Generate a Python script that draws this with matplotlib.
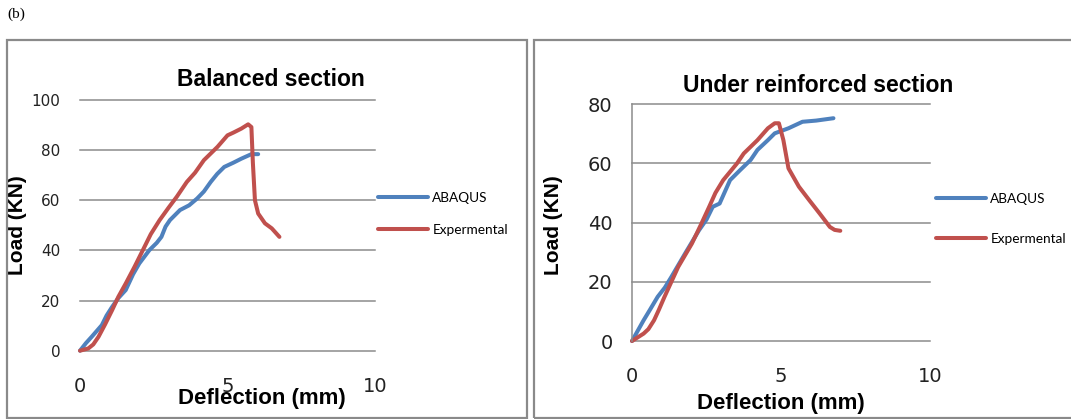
import matplotlib.pyplot as plt
from matplotlib.patches import Rectangle

# Balanced section: load (kN) against deflection (mm)
bal_abaqus_x = [0, 0.20, 0.40, 0.74, 0.90, 1.09, 1.30, 1.55, 1.80, 2.01, 2.35, 2.60, 2.76, 2.90, 3.05,
                3.39, 3.70, 3.97, 4.20, 4.43, 4.65, 4.89, 5.20, 5.47, 5.81, 6.04]
bal_abaqus_y = [0, 3.0, 5.6, 10.2, 14.0, 17.5, 21.0, 24.2, 30.5, 34.8, 40.1, 43.0, 45.4, 49.5, 52.1,
                56.1, 58.0, 60.7, 63.5, 67.3, 70.5, 73.3, 75.0, 76.6, 78.4, 78.4]
bal_exp_x = [0, 0.28, 0.45, 0.63, 0.85, 1.09, 1.30, 1.55, 1.85, 2.13, 2.40, 2.70, 3.00, 3.28, 3.62,
             3.90, 4.20, 4.66, 5.00, 5.20, 5.47, 5.70, 5.81, 5.86, 5.93, 6.04, 6.27, 6.50, 6.76]
bal_exp_y = [0, 0.9, 2.5, 5.6, 10.5, 16.2, 21.5, 26.8, 33.5, 40.1, 46.5, 52.1, 57.0, 61.4, 67.3,
             71.0, 76.0, 81.3, 85.9, 87.0, 88.6, 90.3, 89.2, 75.0, 60.0, 54.7, 50.8, 48.8, 45.4]

# Under reinforced section
und_abaqus_x = [0, 0.39, 0.60, 0.86, 1.10, 1.32, 1.78, 2.25, 2.50, 2.71, 2.94, 3.29, 3.63, 3.98,
                4.21, 4.56, 4.79, 5.25, 5.72, 6.18, 6.76]
und_abaqus_y = [0, 7.0, 10.5, 14.9, 18.0, 21.6, 29.5, 37.4, 41.0, 45.3, 46.4, 54.3, 57.7, 61.1,
                64.5, 67.8, 70.1, 71.8, 74.0, 74.4, 75.2]
und_exp_x = [0, 0.39, 0.55, 0.74, 0.90, 1.09, 1.55, 2.01, 2.30, 2.59, 2.80, 3.06, 3.52, 3.75, 4.21,
             4.56, 4.79, 4.93, 5.08, 5.25, 5.60, 5.95, 6.30, 6.64, 6.80, 6.99]
und_exp_y = [0, 2.5, 4.0, 7.0, 10.5, 14.9, 25.0, 32.9, 39.0, 45.3, 50.0, 54.3, 59.9, 63.3, 67.8,
             71.8, 73.5, 73.5, 67.8, 58.3, 52.1, 47.5, 43.0, 38.5, 37.5, 37.2]

series_names = ['ABAQUS', 'Expermental']
x_ticks = [0, 5, 10]

BLUE = '#4F81BD'
RED = '#C0504D'
GREY = '#8c8c8c'

W, H = 1071, 419
fig = plt.figure(figsize=(W / 100, H / 100), dpi=100)


def px_axes(x0, y_top, x1, y_bot):
    return fig.add_axes([x0 / W, 1 - y_bot / H, (x1 - x0) / W, (y_bot - y_top) / H])


def frame(x0, y_top, x1, y_bot):
    fig.add_artist(Rectangle((x0 / W, 1 - y_bot / H), (x1 - x0) / W, (y_bot - y_top) / H,
                             transform=fig.transFigure, fill=False, ec='#8a8a8a', lw=1.6,
                             clip_on=False))


def draw(ax, ab_x, ab_y, ex_x, ex_y, ymax, ysize, xsize, left_spine):
    ax.plot(ab_x, ab_y, color=BLUE, lw=2.9, label=series_names[0], clip_on=False,
            solid_capstyle='round', solid_joinstyle='round')
    ax.plot(ex_x, ex_y, color=RED, lw=2.9, label=series_names[1], clip_on=False,
            solid_capstyle='round', solid_joinstyle='round')
    ax.set_xlim(0, 10)
    ax.set_ylim(0, ymax)
    ax.set_xticks(x_ticks)
    ax.set_yticks(range(0, ymax + 1, 20))
    ax.grid(axis='y', color=GREY, lw=1.1)
    ax.set_axisbelow(True)
    for gl in ax.get_ygridlines():
        gl.set_clip_on(False)
    for s in ax.spines.values():
        s.set_visible(False)
    if left_spine:
        ax.spines['left'].set_visible(True)
        ax.spines['left'].set_color(GREY)
        ax.spines['left'].set_linewidth(1.1)
    ax.tick_params(axis='y', length=0, pad=14, labelsize=ysize, labelcolor='#222222')
    ax.tick_params(axis='x', length=0, pad=19, labelsize=xsize, labelcolor='#222222')
    for lab in ax.get_xticklabels() + ax.get_yticklabels():
        lab.set_fontfamily('DejaVu Sans')
    ax.set_facecolor('none')


fig.text(7 / W, 1 - 14 / H, '(b)', family='Liberation Serif', fontsize=11, va='center')

frame(7, 40, 527, 417.5)
frame(534, 40, 1075, 417.5)

ylab_font = dict(family='Liberation Sans', fontweight='bold', fontsize=15)
xlab_font = dict(family='Liberation Sans', fontweight='bold', fontsize=16)
title_font = dict(family='Liberation Sans', fontweight='bold', fontsize=16.5)
legend_font = {'family': 'Lato', 'size': 9.8}

# left chart
ax1 = px_axes(80, 100, 375, 350.7)
draw(ax1, bal_abaqus_x, bal_abaqus_y, bal_exp_x, bal_exp_y, 100, 11, 14, False)
ax1.set_ylabel('Load (KN)', **ylab_font)
ax1.yaxis.set_label_coords(-0.18, 0.5)
ax1.set_xlabel('Deflection (mm)', va='center', **xlab_font)
ax1.xaxis.set_label_coords(0.617, -0.189)
fig.text(271 / W, 1 - 80 / H, 'Balanced section', ha='center', va='center', **title_font)
ax1.legend(loc='center left', bbox_to_anchor=(378 / W, 1 - 214 / H), bbox_transform=fig.transFigure,
           frameon=False, borderpad=0, borderaxespad=0, handlelength=3.7, handletextpad=0.3,
           labelspacing=1.45, prop=legend_font)

# right chart
ax2 = px_axes(632, 104, 930, 341)
draw(ax2, und_abaqus_x, und_abaqus_y, und_exp_x, und_exp_y, 80, 14, 14, True)
ax2.set_ylabel('Load (KN)', **ylab_font)
ax2.yaxis.set_label_coords(-0.23, 0.49)
ax2.set_xlabel('Deflection (mm)', va='center', **xlab_font)
ax2.xaxis.set_label_coords(0.5, -0.262)
fig.text(818 / W, 1 - 85 / H, 'Under reinforced section', ha='center', va='center', **title_font)
ax2.legend(loc='center left', bbox_to_anchor=(936 / W, 1 - 219 / H), bbox_transform=fig.transFigure,
           frameon=False, borderpad=0, borderaxespad=0, handlelength=3.7, handletextpad=0.3,
           labelspacing=2.05, prop=legend_font)

fig.savefig('out.png', dpi=100, facecolor='white')
